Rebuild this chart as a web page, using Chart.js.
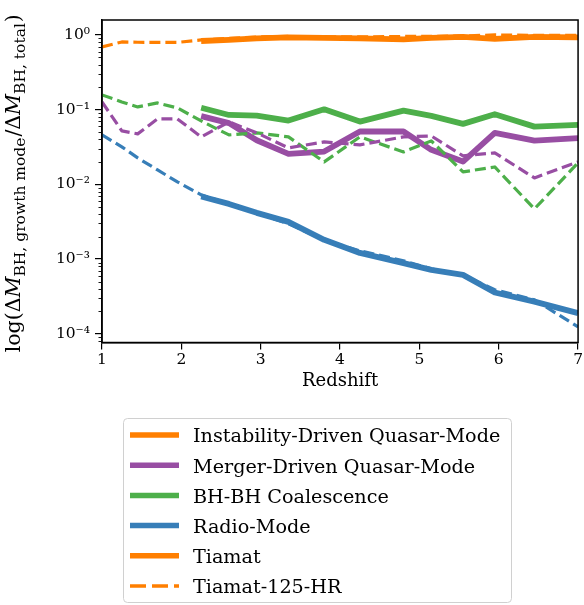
<!DOCTYPE html>
<html><head><meta charset="utf-8">
<script src="https://cdn.jsdelivr.net/npm/chart.js@4/dist/chart.umd.min.js"></script>
<style>html,body{margin:0;padding:0;background:#fff;}</style>
</head><body>
<canvas id="c" width="584" height="605"></canvas>
<script>
// ---- data ----
const zTiamat = [2.25, 2.6, 2.95, 3.35, 3.8, 4.25, 4.8, 5.15, 5.55, 5.95, 6.45, 7.0];
const instabilityTiamat = [0.83, 0.857, 0.898, 0.926, 0.912, 0.898, 0.871, 0.912, 0.94, 0.884, 0.94, 0.926];
const mergerTiamat = [0.082, 0.066, 0.039, 0.0256, 0.0275, 0.051, 0.051, 0.029, 0.0202, 0.049, 0.0385, 0.0415];
const coalescenceTiamat = [0.106, 0.085, 0.083, 0.0714, 0.101, 0.0692, 0.097, 0.0825, 0.0645, 0.087, 0.0593, 0.0625];
const radioTiamat = [0.00687, 0.00548, 0.00416, 0.00315, 0.00181, 0.00121, 0.000883, 0.000718, 0.000615, 0.000357, 0.00027, 0.000189];

const zHR = [1.0, 1.25, 1.45, 1.7, 1.95, 2.25, 2.6, 2.95, 3.35, 3.8, 4.25, 4.8, 5.15, 5.55, 5.95, 6.45, 7.0];
const instabilityHR = [0.691, 0.806, 0.799, 0.794, 0.794, 0.857, 0.898, 0.94, 0.955, 0.94, 0.94, 0.955, 0.955, 0.97, 1.0, 0.985, 0.985];
const mergerHR = [0.127, 0.052, 0.0474, 0.0752, 0.0752, 0.0432, 0.0686, 0.0489, 0.0308, 0.037, 0.0338, 0.0432, 0.0445, 0.0241, 0.0264, 0.0122, 0.02];
const coalescenceHR = [0.1575, 0.127, 0.1088, 0.123, 0.1055, 0.0707, 0.0459, 0.0489, 0.0432, 0.02, 0.0432, 0.0272, 0.0382, 0.0147, 0.0171, 0.0047, 0.0194];
const radioHR = [0.0459, 0.0318, 0.0226, 0.0156, 0.0108, 0.00724, 0.00548, 0.00416, 0.00296, 0.00181, 0.00129, 0.00095, 0.00074, 0.000615, 0.000388, 0.000285, 0.000124];

const xTicks = [1, 2, 3, 4, 5, 6, 7];
const yMajorTicks = [1e-4, 1e-3, 1e-2, 1e-1, 1];
const yTickLabels = ['10\u207B\u2074', '10\u207B\u00B3', '10\u207B\u00B2', '10\u207B\u00B9', '10\u2070'];

const modeNames = ['Instability-Driven Quasar-Mode', 'Merger-Driven Quasar-Mode', 'BH-BH Coalescence', 'Radio-Mode'];
const legendLabels = ['Instability-Driven Quasar-Mode', 'Merger-Driven Quasar-Mode', 'BH-BH Coalescence', 'Radio-Mode', 'Tiamat', 'Tiamat-125-HR'];

// ---- styles ----
const COLORS = ['#ff7f00', '#984ea3', '#4daf4a', '#377eb8'];
const legendColors = ['#ff7f00', '#984ea3', '#4daf4a', '#377eb8', '#ff7f00', '#ff7f00'];
const legendDashed = [false, false, false, false, false, true];
const FONT = "'DejaVu Serif', serif";
const SOLID_W = 5.8, DASH_W = 3.2, DASH = [11, 5];

const tiamatSeries = [instabilityTiamat, mergerTiamat, coalescenceTiamat, radioTiamat];
const hrSeries = [instabilityHR, mergerHR, coalescenceHR, radioHR];

const yMinorTicks = [];
yMajorTicks.concat([1e-5]).forEach(m => { for (let k = 2; k <= 9; k++) yMinorTicks.push(m * k); });

const datasets = [];
hrSeries.forEach((s, i) => datasets.push({
  label: modeNames[i] + ' (Tiamat-125-HR)',
  data: zHR.map((z, j) => ({x: z, y: s[j]})),
  borderColor: COLORS[i], backgroundColor: COLORS[i],
  borderWidth: DASH_W, borderDash: DASH, borderCapStyle: 'butt', borderJoinStyle: 'round',
  pointRadius: 0, tension: 0, fill: false
}));
tiamatSeries.forEach((s, i) => datasets.push({
  label: modeNames[i] + ' (Tiamat)',
  data: zTiamat.map((z, j) => ({x: z, y: s[j]})),
  borderColor: COLORS[i], backgroundColor: COLORS[i],
  borderWidth: SOLID_W, borderCapStyle: 'butt', borderJoinStyle: 'round',
  pointRadius: 0, tension: 0, fill: false
}));

const extras = {
  id: 'extras',
  afterDraw(chart) {
    const ctx = chart.ctx, a = chart.chartArea, ys = chart.scales.y;
    ctx.save();
    // minor y ticks
    ctx.strokeStyle = '#000'; ctx.lineWidth = 0.9;
    yMinorTicks.forEach(v => {
      if (v < ys.min || v > ys.max) return;
      const p = Math.round(ys.getPixelForValue(v)) + 0.5;
      ctx.beginPath(); ctx.moveTo(a.left - 3.5, p); ctx.lineTo(a.left, p); ctx.stroke();
    });
    // frame
    ctx.lineWidth = 1.5; ctx.strokeStyle = '#000';
    ctx.strokeRect(a.left, a.top, a.right - a.left, a.bottom - a.top);

    // y-axis title with subscripts
    const main = '20.5px ' + FONT, ital = 'italic 20.5px ' + FONT, sub = '15.5px ' + FONT;
    const parts = [
      {t: 'log(\u0394', f: main, dy: 0}, {t: 'M', f: ital, dy: 0}, {t: 'BH, growth mode', f: sub, dy: 4.5},
      {t: '/\u0394', f: main, dy: 0}, {t: 'M', f: ital, dy: 0}, {t: 'BH, total', f: sub, dy: 4.5}, {t: ')', f: main, dy: 0}
    ];
    let total = 0;
    parts.forEach(p => { ctx.font = p.f; p.w = ctx.measureText(p.t).width + (p.f === sub ? 1 : 0); total += p.w; });
    ctx.translate(20, (a.top + a.bottom) / 2 + 2);
    ctx.rotate(-Math.PI / 2);
    ctx.fillStyle = '#000'; ctx.textBaseline = 'alphabetic'; ctx.textAlign = 'left';
    let x = -total / 2;
    parts.forEach(p => { ctx.font = p.f; ctx.fillText(p.t, x, p.dy); x += p.w; });
    ctx.setTransform(1, 0, 0, 1, 0, 0);

    // legend
    const L = 123.5, T = 418.5, W = 388, H = 184;
    ctx.beginPath();
    ctx.roundRect(L, T, W, H, 4);
    ctx.fillStyle = 'rgba(255,255,255,0.8)'; ctx.fill();
    ctx.strokeStyle = '#d0d0d0'; ctx.lineWidth = 1; ctx.stroke();
    ctx.font = '19.2px ' + FONT; ctx.fillStyle = '#000'; ctx.textBaseline = 'alphabetic';
    legendLabels.forEach((lab, i) => {
      const yc = 435 + i * 30.2;
      ctx.beginPath();
      ctx.strokeStyle = legendColors[i];
      if (legendDashed[i]) { ctx.lineWidth = 3.6; ctx.setLineDash([16, 6]); }
      else { ctx.lineWidth = 5.5; ctx.setLineDash([]); }
      ctx.moveTo(130, yc); ctx.lineTo(179, yc); ctx.stroke();
      ctx.setLineDash([]);
      ctx.fillStyle = '#000';
      ctx.fillText(lab, 193, yc + 7.3);
    });
    ctx.restore();
  }
};

Chart.defaults.color = '#000';
new Chart(document.getElementById('c'), {
  type: 'line',
  data: {datasets},
  plugins: [extras],
  options: {
    responsive: false, animation: false,
    layout: {padding: {top: 20, right: 4, left: 0, bottom: 212.5}},
    plugins: {legend: {display: false}, title: {display: false}, tooltip: {enabled: false}},
    scales: {
      x: {
        type: 'linear', min: 1, max: 7,
        afterBuildTicks: s => { s.ticks = xTicks.map(v => ({value: v})); },
        afterFit: s => { s.height = 50; },
        ticks: {font: {family: FONT, size: 15.5}, padding: 1, autoSkip: false, maxRotation: 0},
        grid: {drawOnChartArea: false, drawTicks: true, tickLength: 7, color: '#000', lineWidth: 1.2},
        border: {display: true, color: '#000', width: 1.5},
        title: {display: true, text: 'Redshift', font: {family: FONT, size: 18}, padding: {top: 0, bottom: 0}}
      },
      y: {
        type: 'logarithmic', min: 7.65e-5, max: 1.585,
        afterBuildTicks: s => { s.ticks = yMajorTicks.map(v => ({value: v})); },
        afterFit: s => { s.width = 102; },
        ticks: {
          font: {family: FONT, size: 15.5}, padding: 5, autoSkip: false,
          callback: (v) => { const i = yMajorTicks.indexOf(v); return i >= 0 ? yTickLabels[i] : ''; }
        },
        grid: {drawOnChartArea: false, drawTicks: true, tickLength: 7, color: '#000', lineWidth: 1.2},
        border: {display: true, color: '#000', width: 1.5}
      }
    }
  }
});
</script>
</body></html>
